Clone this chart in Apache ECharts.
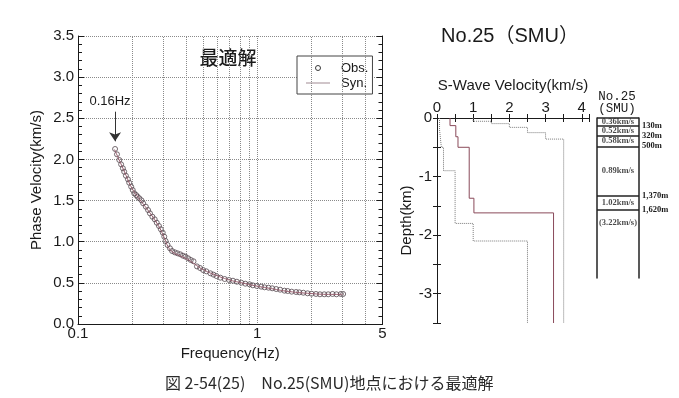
<!DOCTYPE html>
<html>
<head>
<meta charset="utf-8">
<script src="https://cdn.jsdelivr.net/npm/echarts@6/dist/echarts.min.js"></script>
<style>
html,body{margin:0;padding:0;background:#fff;}
#chart{width:679px;height:398px;}
</style>
</head>
<body>
<div id="chart"></div>
<script>
// ---- Phase velocity dispersion (left panel) ----
const obsFreq = [0.161,0.165,0.170,0.174,0.178,0.181,0.185,0.190,0.193,0.198,0.202,0.206,0.211,0.215,0.220,0.226,0.231,0.239,0.246,0.252,0.260,0.268,0.275,0.283,0.290,0.297,0.303,0.308,0.316,0.326,0.335,0.347,0.359,0.372,0.385,0.398,0.412,0.426,0.441,0.461,0.480,0.499,0.520,0.548,0.570,0.592,0.623,0.658,0.696,0.732,0.770,0.815,0.858,0.906,0.945,0.995,1.052,1.098,1.156,1.212,1.276,1.342,1.418,1.479,1.557,1.647,1.718,1.808,1.910,2.011,2.127,2.239,2.365,2.489,2.630,2.768,2.929,3.016];
const obsVel  = [2.127,2.062,1.993,1.940,1.892,1.851,1.802,1.758,1.717,1.669,1.628,1.588,1.568,1.547,1.527,1.503,1.467,1.426,1.385,1.345,1.304,1.272,1.231,1.191,1.151,1.110,1.061,1.009,0.960,0.920,0.887,0.871,0.859,0.847,0.830,0.818,0.798,0.778,0.762,0.700,0.680,0.656,0.640,0.616,0.600,0.583,0.563,0.547,0.535,0.526,0.514,0.502,0.490,0.482,0.470,0.462,0.454,0.446,0.441,0.434,0.425,0.417,0.405,0.401,0.393,0.389,0.385,0.380,0.373,0.368,0.365,0.361,0.361,0.361,0.365,0.361,0.365,0.365];
const synFreq = [0.16,0.18,0.20,0.22,0.25,0.28,0.30,0.32,0.34,0.38,0.42,0.46,0.50,0.60,0.70,0.80,1.00,1.20,1.50,2.00,2.50,3.00];
const synVel  = [2.12,1.87,1.65,1.52,1.36,1.20,1.07,0.93,0.87,0.82,0.77,0.71,0.66,0.585,0.535,0.505,0.46,0.43,0.395,0.37,0.36,0.36];
const freqGridLines = [0.2,0.3,0.4,0.5,0.6,0.7,0.8,0.9,2,3,4];

// ---- S-wave velocity profile (right panel), layer tops in km ----
const synLayerTop = [0, 0.13, 0.32, 0.50, 1.37, 1.62];
const synLayerVs  = [0.36, 0.52, 0.58, 0.89, 1.02, 3.22];
const lowLayerTop = [0, 0.20, 0.50, 0.90, 1.80, 2.10];
const lowLayerVs  = [0.07, 0.12, 0.18, 0.50, 1.00, 2.50];
const upLayerTop  = [0, 0.056, 0.096, 0.16, 0.25, 0.36];
const upLayerVs   = [1.0, 1.5, 2.0, 2.5, 3.0, 3.5];
const profileBottom = 3.5;

// ---- Layer table ----
const tableBoundaries = [0.13, 0.32, 0.50, 1.37, 1.62];
const tableBoundaryLabels = ['130m', '320m', '500m', '1,370m', '1,620m'];
const tableVelocityLabels = ['0.36km/s', '0.52km/s', '0.58km/s', '0.89km/s', '1.02km/s', '(3.22km/s)'];

function steps(tops, vs, bottom) {
  const pts = [];
  for (let i = 0; i < tops.length; i++) {
    const bot = i + 1 < tops.length ? tops[i + 1] : bottom;
    pts.push([vs[i], -tops[i]], [vs[i], -bot]);
  }
  return pts;
}

const SANS = 'Liberation Sans, Arial, Noto Sans CJK JP, sans-serif';
const CJK = 'Noto Sans CJK JP, sans-serif';
const SERIF = 'Liberation Serif, Times New Roman, serif';
const INK = '#1a1a1a';
const OBS_COLOR = '#54464d';
const SYN_COLOR = '#9a6070';

const obsData = obsFreq.map((f, i) => [f, obsVel[i]]);
const synData = synFreq.map((f, i) => [f, synVel[i]]);

// table velocity label depths: midpoints of layers, last one below bottom boundary
const allTops = [0].concat(tableBoundaries);
const tableLabelData = tableVelocityLabels.map((t, i) => {
  const d = i + 1 < allTops.length ? (allTops[i] + allTops[i + 1]) / 2 : allTops[i] + 0.23;
  return { value: [0.5, d], label: { formatter: t } };
});

const chart = echarts.init(document.getElementById('chart'), null, { renderer: 'canvas' });

const tickStyle = { lineStyle: { color: INK, width: 1 } };

chart.setOption({
  backgroundColor: '#ffffff',
  animation: false,
  grid: [
    { left: 78, right: 296.5, top: 36, bottom: 74 },
    { left: 437, right: 90, top: 118, bottom: 75 },
    { left: 597, right: 40, top: 118, bottom: 120 }
  ],
  legend: {
    left: 297, top: 56, orient: 'vertical',
    padding: [5, 4, 4, 9], itemGap: 1, itemWidth: 24, itemHeight: 5,
    borderColor: '#444', borderWidth: 1, backgroundColor: '#fff',
    textStyle: { fontSize: 13, fontFamily: SANS, color: INK, lineHeight: 14, padding: [0, 0, 0, 6] },
    data: [
      { name: 'Obs.', icon: 'circle', itemStyle: { color: '#ffffff', borderColor: '#3a3a3a', borderWidth: 1, opacity: 1 } },
      { name: 'Syn.', icon: 'path://M0,0H48V2H0Z', itemStyle: { color: '#a08a92', borderWidth: 0 } }
    ]
  },
  xAxis: [
    {
      gridIndex: 0, type: 'log', logBase: 10, min: 0.1, max: 5,
      name: 'Frequency(Hz)', nameLocation: 'middle', nameGap: 21,
      nameTextStyle: { fontSize: 15, fontFamily: SANS, color: INK },
      axisLine: { lineStyle: { color: INK, width: 1 } },
      axisTick: { show: false },
      axisLabel: { fontSize: 15, fontFamily: SANS, color: INK, margin: 2, showMinLabel: true, showMaxLabel: true },
      splitLine: { show: true, lineStyle: { type: 'dotted', color: '#8a8a8a', width: 1 } }
    },
    {
      gridIndex: 1, type: 'value', position: 'top', min: 0, max: 4.2, interval: 0.5,
      name: 'S-Wave Velocity(km/s)', nameLocation: 'middle', nameGap: 25,
      nameTextStyle: { fontSize: 15, fontFamily: SANS, color: INK },
      axisLine: { lineStyle: { color: INK, width: 1 } },
      axisTick: Object.assign({ inside: true, length: 4 }, tickStyle),
      axisLabel: { fontSize: 15, fontFamily: SANS, color: INK, margin: 3,
        formatter: v => (Math.abs(v - Math.round(v)) < 1e-9 ? String(Math.round(v)) : '') },
      splitLine: { show: false }
    },
    {
      gridIndex: 1, type: 'value', position: 'bottom', min: 0, max: 4.2, interval: 0.5,
      axisLine: { lineStyle: { color: INK, width: 1 } },
      axisTick: Object.assign({ inside: true, length: 4 }, tickStyle),
      axisLabel: { show: false }, splitLine: { show: false }
    },
    {
      gridIndex: 2, type: 'value', min: 0, max: 1, show: false
    }
  ],
  yAxis: [
    {
      gridIndex: 0, type: 'value', min: 0, max: 3.5, interval: 0.5,
      name: 'Phase Velocity(km/s)', nameLocation: 'middle', nameGap: 34,
      nameTextStyle: { fontSize: 15, fontFamily: SANS, color: INK },
      axisLine: { show: true, lineStyle: { color: INK, width: 1 } },
      axisTick: Object.assign({ inside: true, length: 6 }, tickStyle),
      minorTick: { show: true, splitNumber: 5, length: 4, lineStyle: { color: INK, width: 1 } },
      axisLabel: { fontSize: 15, fontFamily: SANS, color: INK, margin: 4, formatter: v => v.toFixed(1) },
      splitLine: { show: true, lineStyle: { type: 'dotted', color: '#8a8a8a', width: 1 } }
    },
    {
      gridIndex: 0, type: 'value', position: 'right', min: 0, max: 3.5, interval: 0.5,
      axisLine: { show: true, lineStyle: { color: INK, width: 1 } },
      axisTick: Object.assign({ inside: true, length: 6 }, tickStyle),
      minorTick: { show: true, splitNumber: 5, length: 4, lineStyle: { color: INK, width: 1 } },
      axisLabel: { show: false }, splitLine: { show: false }
    },
    {
      gridIndex: 1, type: 'value', min: -3.5, max: 0, interval: 0.5,
      name: 'Depth(km)', nameLocation: 'middle', nameGap: 22,
      nameTextStyle: { fontSize: 15, fontFamily: SANS, color: INK },
      axisLine: { show: true, lineStyle: { color: INK, width: 1 } },
      axisTick: Object.assign({ inside: true, length: 4 }, tickStyle),
      axisLabel: { fontSize: 15, fontFamily: SANS, color: INK, margin: 5,
        formatter: v => (Math.abs(v - Math.round(v)) < 1e-9 ? String(Math.round(v)) : '') },
      splitLine: { show: false }
    },
    {
      gridIndex: 1, type: 'value', position: 'right', min: -3.5, max: 0, interval: 0.5,
      axisLine: { show: true, lineStyle: { color: INK, width: 1 } },
      axisTick: Object.assign({ inside: true, length: 4 }, tickStyle),
      axisLabel: { show: false }, splitLine: { show: false }
    },
    {
      gridIndex: 2, type: 'value', inverse: true, min: 0, max: 2.83,
      axisLine: { show: true, lineStyle: { color: '#222', width: 1.5 } },
      axisTick: { show: false }, axisLabel: { show: false }, splitLine: { show: false }
    },
    {
      gridIndex: 2, type: 'value', inverse: true, position: 'right', min: 0, max: 2.83,
      axisLine: { show: true, lineStyle: { color: '#222', width: 1.5 } },
      axisTick: { show: false }, axisLabel: { show: false }, splitLine: { show: false }
    }
  ],
  series: [
    {
      name: 'Syn.', type: 'line', xAxisIndex: 0, yAxisIndex: 0,
      data: synData, smooth: true, symbol: 'none',
      lineStyle: { color: SYN_COLOR, width: 1 }, itemStyle: { color: SYN_COLOR },
      z: 5,
      markLine: {
        silent: true, symbol: 'none', animation: false,
        label: { show: false },
        lineStyle: { type: 'dotted', color: '#8a8a8a', width: 1 },
        data: freqGridLines.map(f => ({ xAxis: f }))
      }
    },
    {
      name: 'Obs.', type: 'scatter', xAxisIndex: 0, yAxisIndex: 0,
      data: obsData, symbol: 'circle', symbolSize: 5,
      itemStyle: { color: 'rgba(255,255,255,0)', borderColor: OBS_COLOR, borderWidth: 1 },
      z: 4,
      markLine: {
        silent: true, animation: false, symbol: ['none', 'arrow'], symbolSize: 9,
        label: { show: false },
        lineStyle: { type: 'solid', color: '#333', width: 1 },
        data: [[{ coord: [0.161, 2.58] }, { coord: [0.161, 2.22] }]]
      }
    },
    {
      name: 'upper', type: 'line', xAxisIndex: 1, yAxisIndex: 2,
      data: steps(upLayerTop, upLayerVs, profileBottom), symbol: 'none',
      lineStyle: { color: '#7a7a7a', width: 1, type: 'dotted' }
    },
    {
      name: 'lower', type: 'line', xAxisIndex: 1, yAxisIndex: 2,
      data: steps(lowLayerTop, lowLayerVs, profileBottom), symbol: 'none',
      lineStyle: { color: '#7a7a7a', width: 1, type: 'dotted' }
    },
    {
      name: 'best', type: 'line', xAxisIndex: 1, yAxisIndex: 2,
      data: steps(synLayerTop, synLayerVs, profileBottom), symbol: 'none',
      lineStyle: { color: '#8a4a5a', width: 1 }
    },
    {
      name: 'table', type: 'scatter', xAxisIndex: 3, yAxisIndex: 4,
      data: tableLabelData, symbolSize: 0.1, itemStyle: { color: 'transparent' },
      label: { show: true, position: 'inside', color: '#1a1a1a', fontSize: 8.5, fontWeight: 'bold', fontFamily: SERIF },
      markLine: {
        silent: true, animation: false, symbol: 'none',
        lineStyle: { type: 'solid', color: '#222', width: 1.5 },
        label: { show: true, position: 'end', distance: 3, formatter: '{b}', color: '#1a1a1a',
          fontSize: 8.5, fontWeight: 'bold', fontFamily: SERIF },
        data: [{ yAxis: 0, name: '' }].concat(tableBoundaries.map((d, i) => ({ yAxis: d, name: tableBoundaryLabels[i] })))
      }
    }
  ],
  graphic: [
    { type: 'text', x: 228, y: 58, style: { text: '最適解', font: '500 19px ' + CJK, fill: INK, textAlign: 'center', textVerticalAlign: 'middle' } },
    { type: 'text', x: 110, y: 101, style: { text: '0.16Hz', font: '13px ' + SANS, fill: INK, textAlign: 'center', textVerticalAlign: 'middle' } },
    { type: 'text', x: 510, y: 36, style: { text: 'No.25（SMU）', font: '20px ' + SANS, fill: INK, textAlign: 'center', textVerticalAlign: 'middle' } },
    { type: 'text', x: 617, y: 97, style: { text: 'No.25', font: '12.5px Liberation Mono, Courier New, monospace', fill: INK, textAlign: 'center', textVerticalAlign: 'middle' } },
    { type: 'text', x: 617, y: 108.5, style: { text: '(SMU)', font: '12.5px Liberation Mono, Courier New, monospace', fill: INK, textAlign: 'center', textVerticalAlign: 'middle' } },
    { type: 'text', x: 165, y: 383, style: { text: '図 2-54(25)　No.25(SMU)地点における最適解', font: '16px ' + CJK, fill: '#2a2a2a', textAlign: 'left', textVerticalAlign: 'middle' } }
  ]
});
</script>
</body>
</html>
